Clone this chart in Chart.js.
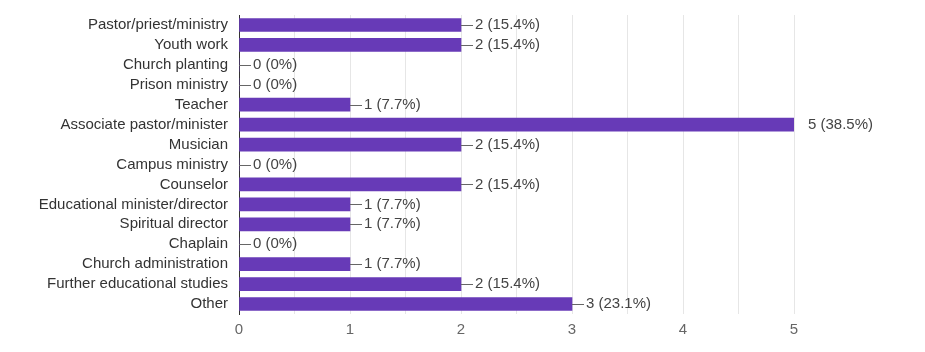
<!DOCTYPE html>
<html lang="en">
<head>
  <meta charset="UTF-8">
  <title>Responses</title>
  <script src="https://cdn.jsdelivr.net/npm/chart.js"></script>
  <style>
    html, body { margin: 0; padding: 0; background: #fff; }
    #wrap { width: 925px; height: 352px; position: relative; }
  </style>
</head>
<body>
  <div id="wrap"><canvas id="chart" width="925" height="352"></canvas></div>
  <script>
    // answers and counts
    const categories = [
      'Pastor/priest/ministry', 'Youth work', 'Church planting', 'Prison ministry',
      'Teacher', 'Associate pastor/minister', 'Musician', 'Campus ministry',
      'Counselor', 'Educational minister/director', 'Spiritual director', 'Chaplain',
      'Church administration', 'Further educational studies', 'Other'
    ];
    const counts = [2, 2, 0, 0, 1, 5, 2, 0, 2, 1, 1, 0, 1, 2, 3];
    const percents = ['15.4%', '15.4%', '0%', '0%', '7.7%', '38.5%', '15.4%', '0%',
      '15.4%', '7.7%', '7.7%', '0%', '7.7%', '15.4%', '23.1%'];
    const xTicks = [0, 1, 2, 3, 4, 5];

    const font = "'Liberation Sans', Arial, sans-serif";

    // value labels with small connector line, like google forms
    const valueLabels = {
      id: 'valueLabels',
      afterDatasetsDraw(chart) {
        const ctx = chart.ctx;
        const meta = chart.getDatasetMeta(0);
        ctx.save();
        ctx.font = '15px ' + font;
        ctx.textBaseline = 'middle';
        meta.data.forEach((bar, i) => {
          const x = bar.x, y = bar.y;
          const txt = counts[i] + ' (' + percents[i] + ')';
          ctx.fillStyle = '#444';
          if (x >= chart.chartArea.right - 1) {
            ctx.fillText(txt, x + 14, y);
            return;
          }
          ctx.strokeStyle = '#666';
          ctx.lineWidth = 1;
          ctx.beginPath();
          ctx.moveTo(x, Math.round(y) + 0.5);
          ctx.lineTo(x + 12, Math.round(y) + 0.5);
          ctx.stroke();
          ctx.fillText(txt, x + 14, y);
        });
        ctx.restore();
      }
    };

    const ctx = document.getElementById('chart').getContext('2d');
    new Chart(ctx, {
      type: 'bar',
      data: {
        labels: categories,
        datasets: [{
          data: counts,
          backgroundColor: '#673ab7',
          barThickness: 13,
          borderWidth: 0
        }]
      },
      options: {
        indexAxis: 'y',
        responsive: false,
        animation: false,
        layout: { padding: { top: 15, right: 131, left: 0, bottom: 0 } },
        plugins: {
          legend: { display: false },
          tooltip: { enabled: false }
        },
        scales: {
          x: {
            min: 0,
            max: 5,
            border: { display: false },
            grid: { color: '#e6e6e6', drawTicks: false },
            ticks: {
              stepSize: 0.5,
              padding: 7,
              color: '#666',
              font: { family: font, size: 15 },
              callback: v => xTicks.includes(v) ? String(v) : ''
            },
            afterFit: s => { s.height = 38; }
          },
          y: {
            border: { display: true, color: '#333', width: 1 },
            grid: { display: false, drawTicks: false },
            ticks: {
              padding: 11,
              color: '#333',
              autoSkip: false,
              font: { family: font, size: 15 }
            },
            afterFit: s => {
              s.width = 239;
              s.paddingTop = 0;
              s.paddingBottom = 0;
            }
          }
        }
      },
      plugins: [valueLabels]
    });
  </script>
</body>
</html>
